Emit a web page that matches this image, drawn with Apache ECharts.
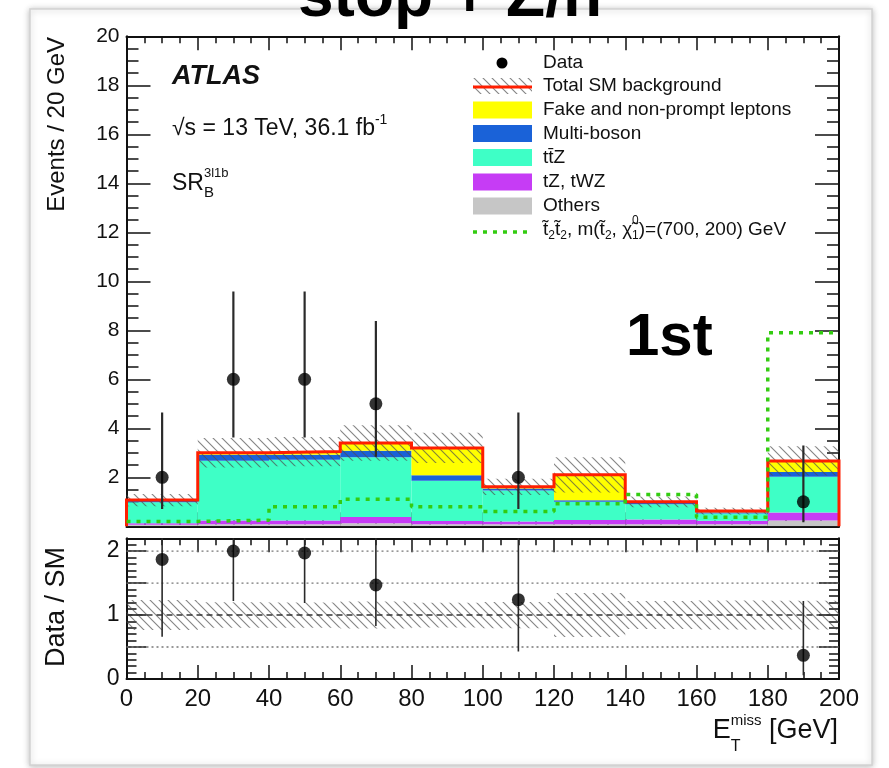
<!DOCTYPE html>
<html>
<head>
<meta charset="utf-8">
<script src="https://cdn.jsdelivr.net/npm/echarts@6/dist/echarts.min.js"></script>
<style>
  html, body { margin: 0; padding: 0; background: #ffffff; }
  #chart { width: 889px; height: 768px; }
</style>
</head>
<body>
<div id="chart"></div>
<script>
// ---- Binning (E_T^miss, 20 GeV bins) ----
const binEdges = [0, 20, 40, 60, 80, 100, 120, 140, 160, 180, 200];

// ---- Background stack, bottom to top (events / bin) ----
const others   = [0.06, 0.08, 0.08, 0.12, 0.08, 0.08, 0.08, 0.08, 0.08, 0.24];
const tZtWZ    = [0.06, 0.16, 0.16, 0.26, 0.14, 0.12, 0.18, 0.20, 0.15, 0.32];
const ttZ      = [0.86, 2.44, 2.48, 2.44, 1.64, 1.26, 0.74, 0.62, 0.29, 1.46];
const multiBoson = [0.06, 0.24, 0.20, 0.26, 0.22, 0.08, 0.06, 0.05, 0.05, 0.20];
const fakeLep  = [0.03, 0.08, 0.13, 0.32, 1.12, 0.07, 1.04, 0.05, 0.05, 0.45];

// total SM uncertainty (absolute, events)
const totalUnc = [0.25, 0.60, 0.60, 0.72, 0.62, 0.33, 0.72, 0.22, 0.14, 0.60];

// ---- Signal: stop2 pair, m(stop2, chi1) = (700, 200) GeV ----
const signal = [0.20, 0.25, 0.80, 1.10, 0.80, 0.60, 0.92, 1.30, 0.37, 7.90];

// ---- Observed data with error band edges ----
const dataObs  = [2, 6, 6, 5, 0, 2, 0, 0, 0, 1];
const dataLow  = [0.71, 3.62, 3.62, 2.84, 0, 0.71, 0, 0, 0, 0.17];
const dataHigh = [4.64, 9.58, 9.58, 8.38, 0, 4.64, 0, 0, 0, 3.30];

// ---- Data / SM ratio ----
const ratioVal  = [1.87, 2.00, 1.97, 1.47, null, 1.24, null, null, null, 0.37];
const ratioLow  = [0.66, 1.22, 1.19, 0.83, null, 0.43, null, null, null, 0.06];
const ratioHigh = [4.30, 3.20, 3.14, 2.46, null, 2.90, null, null, null, 1.22];
const ratioRefLines = [0.5, 1.0, 1.5, 2.0];

// ---- Axis ticks ----
const xTicks = { min: 0, max: 200, step: 20 };
const yTicksMain = { min: 0, max: 20, step: 2 };
const yTicksRatio = { min: 0, max: 2.2, step: 0.5 };

// ---- Legend entries ----
const legendNames = ['Data', 'Total SM background', 'Fake and non-prompt leptons',
  'Multi-boson', 'ttZ', 'tZ, tWZ', 'Others', 'signal'];

// ---- Colours ----
const C = {
  others: '#c6c6c6', tz: '#c63cf5', ttz: '#3effc6', mb: '#1a62d8', fake: '#ffff00',
  total: '#ff1e00', signal: '#33cc11', ink: '#111111', err: '#2a2a2a'
};
const FONT = '"Liberation Sans", Arial, Helvetica, sans-serif';

// Diagonal hatch pattern used for the SM uncertainty band
const hatchCanvas = document.createElement('canvas');
hatchCanvas.width = 9; hatchCanvas.height = 9;
(function () {
  const g = hatchCanvas.getContext('2d');
  g.strokeStyle = 'rgba(80,80,80,0.7)';
  g.lineWidth = 1.1;
  g.beginPath();
  g.moveTo(-1, -1); g.lineTo(10, 10);
  g.moveTo(-1, 8); g.lineTo(1, 10);
  g.moveTo(8, -1); g.lineTo(10, 1);
  g.stroke();
})();
const hatch = { image: hatchCanvas, repeat: 'repeat' };

// ---- Derived stack boundaries ----
const nBins = binEdges.length - 1;
const layers = [
  { vals: others, color: C.others },
  { vals: tZtWZ, color: C.tz },
  { vals: ttZ, color: C.ttz },
  { vals: multiBoson, color: C.mb },
  { vals: fakeLep, color: C.fake }
];
const cum = new Array(nBins).fill(0);
const layerData = layers.map(l => {
  const rows = [];
  for (let i = 0; i < nBins; i++) {
    rows.push([binEdges[i], binEdges[i + 1], cum[i], cum[i] + l.vals[i]]);
    cum[i] += l.vals[i];
  }
  return rows;
});
const total = cum.slice();
const centers = binEdges.slice(0, -1).map((e, i) => (e + binEdges[i + 1]) / 2);

function rectRender(fill, stroke) {
  return function (params, api) {
    const a = api.coord([api.value(0), api.value(3)]);
    const b = api.coord([api.value(1), api.value(2)]);
    return {
      type: 'rect',
      shape: { x: a[0], y: a[1], width: b[0] - a[0], height: b[1] - a[1] },
      style: { fill: fill, stroke: stroke || null, lineWidth: 0 }
    };
  };
}
function errRender(width) {
  return function (params, api) {
    const a = api.coord([api.value(0), api.value(1)]);
    const b = api.coord([api.value(0), api.value(2)]);
    return {
      type: 'line',
      shape: { x1: a[0], y1: a[1], x2: b[0], y2: b[1] },
      style: { stroke: C.err, lineWidth: width }
    };
  };
}
function stepPath(vals, closeEnds) {
  const pts = [];
  if (closeEnds) pts.push([binEdges[0], 0]);
  for (let i = 0; i < nBins; i++) {
    pts.push([binEdges[i], vals[i]]);
    pts.push([binEdges[i + 1], vals[i]]);
  }
  if (closeEnds) pts.push([binEdges[nBins], 0]);
  return pts;
}

// ---- Text helpers: runs of text with sub/superscripts ----
const meas = document.createElement('canvas').getContext('2d');
function fontStr(p) {
  return (p.italic ? 'italic ' : '') + (p.bold ? 'bold ' : '') + p.size + 'px ' + FONT;
}
function runWidth(parts) {
  let w = 0, held = 0;
  parts.forEach(p => {
    meas.font = fontStr(p);
    const pw = meas.measureText(p.text).width;
    if (p.hold) held = Math.max(held, pw);
    else { w += Math.max(pw, held) + (p.dx || 0); held = 0; }
  });
  return w;
}
function textRun(x, y, parts, z) {
  const els = [];
  let cx = x, held = 0;
  parts.forEach(p => {
    const f = fontStr(p);
    meas.font = f;
    const w = meas.measureText(p.text).width;
    els.push({
      type: 'text', x: cx + (p.dx || 0), y: y + (p.dy || 0), z: z || 60,
      style: { text: p.text, font: f, fill: p.color || C.ink,
        align: 'left', verticalAlign: 'middle', textAlign: 'left', textVerticalAlign: 'middle' }
    });
    if (p.hold) { held = Math.max(held, w); }
    else { cx += Math.max(w, held) + (p.dx || 0); held = 0; }
  });
  return els;
}

// ---- Static page elements ----
const graphics = [];
// white card with a soft border
graphics.push({
  type: 'rect', z: 0, shape: { x: 30, y: 9, width: 842, height: 756 },
  style: { fill: '#ffffff', stroke: '#d2d2d2', lineWidth: 1.5,
    shadowBlur: 6, shadowColor: 'rgba(0,0,0,0.25)', shadowOffsetX: 0, shadowOffsetY: 1 }
});
// slide heading
graphics.push({
  type: 'text', x: 450, y: -2, z: 100,
  style: { text: 'stop + Z/h', font: 'bold 64px ' + FONT, fill: '#000',
    align: 'center', verticalAlign: 'middle', textAlign: 'center', textVerticalAlign: 'middle' }
});
// annotation on the plot
graphics.push({
  type: 'text', x: 626, y: 338, z: 100,
  style: { text: '1st', font: 'bold 60px ' + FONT, fill: '#000',
    align: 'left', verticalAlign: 'middle', textAlign: 'left', textVerticalAlign: 'middle' }
});

// ATLAS labels
graphics.push(...textRun(172, 77, [{ text: 'ATLAS', size: 27, bold: true, italic: true }]));
graphics.push(...textRun(172, 129, [
  { text: '\u221As = 13 TeV, 36.1 fb', size: 23 },
  { text: '-1', size: 14, dy: -9 }
]));
graphics.push(...textRun(172, 184, [
  { text: 'SR', size: 23 },
  { text: 'B', size: 15, dy: 9, hold: true },
  { text: '3l1b', size: 13, dy: -11 }
]));

// Axis titles
graphics.push({
  type: 'text', x: 57, y: 37, rotation: Math.PI / 2, z: 60,
  style: { text: 'Events / 20 GeV', font: '24px ' + FONT, fill: C.ink,
    align: 'right', verticalAlign: 'middle', textAlign: 'right', textVerticalAlign: 'middle' }
});
graphics.push({
  type: 'text', x: 57, y: 607, rotation: Math.PI / 2, z: 60,
  style: { text: 'Data / SM', font: '27px ' + FONT, fill: C.ink,
    align: 'center', verticalAlign: 'middle', textAlign: 'center', textVerticalAlign: 'middle' }
});
const xTitle = [
  { text: 'E', size: 27 },
  { text: 'T', size: 16, dy: 16, hold: true },
  { text: 'miss', size: 15, dy: -10 },
  { text: ' [GeV]', size: 27 }
];
graphics.push(...textRun(838 - runWidth(xTitle), 731, xTitle));

// Legend
const legRows = [63, 86, 110, 133.5, 157.5, 182, 206, 230];
const iconX = 473, iconW = 59, textX = 543, legSize = 19;
// Data marker
graphics.push({ type: 'circle', z: 60, shape: { cx: 502, cy: legRows[0], r: 5.5 }, style: { fill: '#000' } });
// Total SM: hatched box with red line
graphics.push({ type: 'rect', z: 60, shape: { x: iconX, y: legRows[1] - 8, width: iconW, height: 16 }, style: { fill: hatch } });
graphics.push({ type: 'line', z: 61, shape: { x1: iconX, y1: legRows[1] + 1, x2: iconX + iconW, y2: legRows[1] + 1 }, style: { stroke: C.total, lineWidth: 3 } });
// coloured boxes
[[2, C.fake], [3, C.mb], [4, C.ttz], [5, C.tz], [6, C.others]].forEach(([r, col]) => {
  graphics.push({ type: 'rect', z: 60, shape: { x: iconX, y: legRows[r] - 8.5, width: iconW, height: 17 }, style: { fill: col } });
});
// signal dotted line
graphics.push({ type: 'line', z: 60, shape: { x1: iconX, y1: legRows[7] + 2, x2: iconX + iconW, y2: legRows[7] + 2 },
  style: { stroke: C.signal, lineWidth: 3.5, lineDash: [4, 6] } });

graphics.push(...textRun(textX, legRows[0], [{ text: legendNames[0], size: legSize }]));
graphics.push(...textRun(textX, legRows[1], [{ text: legendNames[1], size: legSize }]));
graphics.push(...textRun(textX, legRows[2], [{ text: legendNames[2], size: legSize }]));
graphics.push(...textRun(textX, legRows[3], [{ text: legendNames[3], size: legSize }]));
graphics.push(...textRun(textX, legRows[4], [{ text: 'tt\u0304Z', size: legSize }]));
graphics.push(...textRun(textX, legRows[5], [{ text: legendNames[5], size: legSize }]));
graphics.push(...textRun(textX, legRows[6], [{ text: legendNames[6], size: legSize }]));
graphics.push(...textRun(textX, legRows[7], [
  { text: 't\u0303', size: legSize },
  { text: '2', size: 12, dy: 6 },
  { text: 't\u0303', size: legSize },
  { text: '2', size: 12, dy: 6 },
  { text: ', m(t\u0303', size: legSize },
  { text: '2', size: 12, dy: 6 },
  { text: ', \u03C7\u0303', size: legSize },
  { text: '1', size: 12, dy: 6, hold: true },
  { text: '0', size: 12, dy: -9 },
  { text: ')=(700, 200) GeV', size: legSize }
]));

// ---- Axes ----
const axisLine = { show: true, onZero: false, lineStyle: { color: C.ink, width: 2 } };
function xAx(grid, pos, labels) {
  return {
    type: 'value', gridIndex: grid, position: pos,
    min: xTicks.min, max: xTicks.max, interval: xTicks.step,
    axisLine: axisLine,
    axisTick: { show: true, inside: true, length: 14, lineStyle: { color: C.ink, width: 1.5 } },
    minorTick: { show: true, splitNumber: 4, length: 7, lineStyle: { color: C.ink, width: 1.5 } },
    splitLine: { show: false }, minorSplitLine: { show: false },
    axisLabel: labels ? { show: true, margin: 8, color: C.ink, fontSize: 24, fontFamily: FONT } : { show: false }
  };
}
function yAx(grid, pos, ticks, labels, fs, major, minor, minorSplit) {
  return {
    type: 'value', gridIndex: grid, position: pos,
    min: ticks.min, max: ticks.max, interval: ticks.step,
    axisLine: axisLine,
    axisTick: { show: true, inside: true, length: major, lineStyle: { color: C.ink, width: 1.5 } },
    minorTick: { show: true, splitNumber: minorSplit, length: minor, lineStyle: { color: C.ink, width: 1.5 } },
    splitLine: { show: false }, minorSplitLine: { show: false },
    axisLabel: labels ? {
      show: true, margin: 7, color: C.ink, fontSize: fs, fontFamily: FONT,
      showMaxLabel: grid === 0,
      formatter: labels
    } : { show: false }
  };
}

// ---- Series ----
const series = [];
layerData.forEach((rows, k) => {
  series.push({
    type: 'custom', xAxisIndex: 0, yAxisIndex: 0, z: 2, clip: true,
    renderItem: rectRender(layers[k].color), data: rows, silent: true,
    encode: { x: [0, 1], y: [2, 3] }
  });
});
// SM uncertainty band (upper panel)
series.push({
  type: 'custom', xAxisIndex: 0, yAxisIndex: 0, z: 3, clip: true, silent: true,
  renderItem: rectRender(hatch),
  data: total.map((t, i) => [binEdges[i], binEdges[i + 1], t - totalUnc[i], t + totalUnc[i]]),
  encode: { x: [0, 1], y: [2, 3] }
});
// total SM outline
series.push({
  type: 'line', xAxisIndex: 0, yAxisIndex: 0, z: 4, symbol: 'none', silent: true,
  data: stepPath(total, true), lineStyle: { color: C.total, width: 3, join: 'miter' }, animation: false
});
// signal
series.push({
  type: 'line', xAxisIndex: 0, yAxisIndex: 0, z: 5, symbol: 'none', silent: true,
  data: stepPath(signal, false), lineStyle: { color: C.signal, width: 3.5, type: [4, 6] }, animation: false
});
// data error bars + points
const dataIdx = dataObs.map((v, i) => i).filter(i => dataObs[i] > 0);
series.push({
  type: 'custom', xAxisIndex: 0, yAxisIndex: 0, z: 6, clip: true, silent: true,
  renderItem: errRender(2.2),
  data: dataIdx.map(i => [centers[i], dataLow[i], dataHigh[i]]),
  encode: { x: 0, y: [1, 2] }
});
series.push({
  type: 'scatter', xAxisIndex: 0, yAxisIndex: 0, z: 7, symbol: 'circle', symbolSize: 13, silent: true,
  itemStyle: { color: '#000' }, data: dataIdx.map(i => [centers[i], dataObs[i]])
});

// Ratio panel
series.push({
  type: 'custom', xAxisIndex: 2, yAxisIndex: 2, z: 2, clip: true, silent: true,
  renderItem: rectRender(hatch),
  data: total.map((t, i) => [binEdges[i], binEdges[i + 1], 1 - totalUnc[i] / t, 1 + totalUnc[i] / t]),
  encode: { x: [0, 1], y: [2, 3] }
});
ratioRefLines.forEach(v => {
  series.push({
    type: 'line', xAxisIndex: 2, yAxisIndex: 2, z: 3, symbol: 'none', silent: true, animation: false,
    data: [[xTicks.min, v], [xTicks.max, v]],
    lineStyle: v === 1 ? { color: '#333', width: 1.5, type: [6, 4] } : { color: '#777', width: 1.3, type: [2, 3] }
  });
});
const ratioIdx = ratioVal.map((v, i) => i).filter(i => ratioVal[i] !== null);
series.push({
  type: 'custom', xAxisIndex: 2, yAxisIndex: 2, z: 6, clip: true, silent: true,
  renderItem: errRender(1.6),
  data: ratioIdx.map(i => [centers[i], ratioLow[i], ratioHigh[i]]),
  encode: { x: 0, y: [1, 2] }
});
series.push({
  type: 'scatter', xAxisIndex: 2, yAxisIndex: 2, z: 7, symbol: 'circle', symbolSize: 13, silent: true,
  itemStyle: { color: '#000' }, data: ratioIdx.map(i => [centers[i], ratioVal[i]])
});

const chart = echarts.init(document.getElementById('chart'), null, { renderer: 'canvas' });
chart.setOption({
  animation: false,
  backgroundColor: '#ffffff',
  grid: [
    { left: 126.5, top: 36.3, width: 712.5, height: 490, containLabel: false, outerBoundsMode: 'none' },
    { left: 126.5, top: 538.3, width: 712.5, height: 140.7, containLabel: false, outerBoundsMode: 'none' }
  ],
  xAxis: [xAx(0, 'bottom', false), xAx(0, 'top', false), xAx(1, 'bottom', true), xAx(1, 'top', false)],
  yAxis: [
    yAx(0, 'left', yTicksMain, v => (v === 0 ? '' : String(v)), 21, 24, 12, 4),
    yAx(0, 'right', yTicksMain, null, 0, 24, 12, 4),
    yAx(1, 'left', yTicksRatio, v => (Math.abs(v - Math.round(v)) < 1e-6 ? String(Math.round(v)) : ''), 23, 20, 10, 5),
    yAx(1, 'right', yTicksRatio, null, 0, 20, 10, 5)
  ],
  graphic: { elements: graphics },
  series: series
});
</script>
</body>
</html>
